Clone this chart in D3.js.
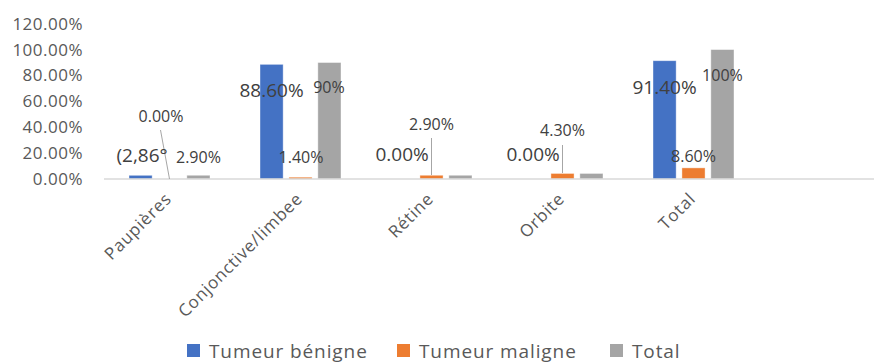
<!DOCTYPE html>
<html>
<head>
<meta charset="utf-8">
<script src="https://cdn.jsdelivr.net/npm/d3@7"></script>
<style>
  body { margin: 0; background: #fff; }
  text { font-family: "Open Sans", sans-serif; }
</style>
</head>
<body>
<div id="chart"></div>
<script>
// data
const categories = ["Paupières", "Conjonctive/limbee", "Rétine", "Orbite", "Total"];
const seriesNames = ["Tumeur bénigne", "Tumeur maligne", "Total"];
const benigne = [2.86, 88.6, 0, 0, 91.4];
const maligne = [0, 1.4, 2.9, 4.3, 8.6];
const totalVals = [2.9, 90, 2.9, 4.3, 100];
const benigneLabels = ["(2,86°", "88.60%", "0.00%", "0.00%", "91.40%"];
const maligneLabels = ["0.00%", "1.40%", "2.90%", "4.30%", "8.60%"];
const totalLabels = ["2.90%", "90%", "", "", "100%"];
const yTicks = [0, 20, 40, 60, 80, 100, 120];
const colors = ["#4472C4", "#ED7D31", "#A5A5A5"];

const width = 874, height = 363;
const svg = d3.select("#chart").append("svg")
    .attr("width", width)
    .attr("height", height);

const x0 = d3.scaleBand()
    .domain(categories)
    .range([104, 104 + 131 * categories.length]);

const x1 = d3.scaleBand()
    .domain(seriesNames)
    .range([0, 81])
    .paddingInner(0.2);

const y = d3.scaleLinear()
    .domain([0, 120])
    .range([179, 179 - 155.3]);

// y axis labels
svg.append("g")
    .selectAll("text")
    .data(yTicks)
    .enter()
    .append("text")
    .attr("x", 83)
    .attr("y", d => y(d))
    .attr("dy", "0.35em")
    .attr("text-anchor", "end")
    .attr("fill", "#595959")
    .style("font-size", "17px")
    .style("letter-spacing", "0.5px")
    .text(d => d.toFixed(2) + "%");

// bars
const series = [benigne, maligne, totalVals];
const groupX = c => x0(c) + x0.bandwidth() / 2 - 40.5;
const barCenter = (ci, si) => groupX(categories[ci]) + x1(seriesNames[si]) + x1.bandwidth() / 2;

series.forEach((vals, si) => {
    svg.append("g")
        .selectAll("rect")
        .data(vals)
        .enter()
        .append("rect")
        .attr("x", (d, i) => groupX(categories[i]) + x1(seriesNames[si]))
        .attr("y", d => y(d))
        .attr("width", x1.bandwidth())
        .attr("height", d => y(0) - y(d))
        .attr("fill", colors[si])
        .attr("stroke", "#fff")
        .attr("stroke-opacity", 0.5)
        .attr("stroke-width", 0.8);
});

// baseline
svg.append("line")
    .attr("x1", 104).attr("x2", width)
    .attr("y1", y(0)).attr("y2", y(0))
    .attr("stroke", "#D9D9D9")
    .attr("stroke-width", 1.5);

// leader lines (labels dragged away from their bars)
const leaders = [
    { cat: 0, s: 1, from: 130, to: 179, dx: -9 },
    { cat: 2, s: 1, from: 138, to: 175, dx: 0 },
    { cat: 3, s: 1, from: 145, to: 173, dx: 0 }
];

svg.append("g")
    .selectAll("line")
    .data(leaders)
    .enter()
    .append("line")
    .attr("x1", d => barCenter(d.cat, d.s) + d.dx)
    .attr("x2", d => barCenter(d.cat, d.s))
    .attr("y1", d => d.from)
    .attr("y2", d => d.to)
    .attr("stroke", "#A6A6A6")
    .attr("stroke-width", 1);

// data labels, placed like the dragged excel labels
const labelY = [
    [155, 90, 154, 154, 87],
    [116, 157, 124, 130, 156],
    [157, 87, 0, 0, 75]
];
const labelDx = [
    [1.5, 0, -0.5, -0.5, 0],
    [-8.5, 0.5, 0, 0, 0],
    [0, -0.5, 0, 0, 0]
];
const labelSize = [
    [19, 19, 19, 19, 19],
    [16, 16, 16, 16, 16],
    [16, 16, 16, 16, 16]
];
const allLabels = [benigneLabels, maligneLabels, totalLabels];

allLabels.forEach((labs, si) => {
    const items = labs.map((t, i) => ({ t, i })).filter(d => d.t !== "");
    svg.append("g")
        .selectAll("text")
        .data(items)
        .enter()
        .append("text")
        .attr("x", d => barCenter(d.i, si) + labelDx[si][d.i])
        .attr("y", d => labelY[si][d.i])
        .attr("dy", "0.35em")
        .attr("text-anchor", "middle")
        .attr("fill", "#404040")
        .style("font-size", d => labelSize[si][d.i] + "px")
        .text(d => d.t);
});

// x axis labels, rotated
svg.append("g")
    .selectAll("text")
    .data(categories)
    .enter()
    .append("text")
    .attr("transform", d => `translate(${x0(d) + x0.bandwidth() / 2 + 3},${200}) rotate(-45)`)
    .attr("text-anchor", "end")
    .attr("fill", "#595959")
    .style("font-size", "17px")
    .style("letter-spacing", "0.8px")
    .text(d => d);

// legend
const legendX = [187, 397, 610];
const legend = svg.append("g")
    .selectAll("g")
    .data(seriesNames)
    .enter()
    .append("g")
    .attr("transform", (d, i) => `translate(${legendX[i]},344)`);

legend.append("rect")
    .attr("width", 13)
    .attr("height", 13)
    .attr("fill", (d, i) => colors[i]);

legend.append("text")
    .attr("x", 22)
    .attr("y", 7)
    .attr("dy", "0.35em")
    .attr("fill", "#595959")
    .style("font-size", "19px")
    .style("letter-spacing", "0.9px")
    .text(d => d);
</script>
</body>
</html>
